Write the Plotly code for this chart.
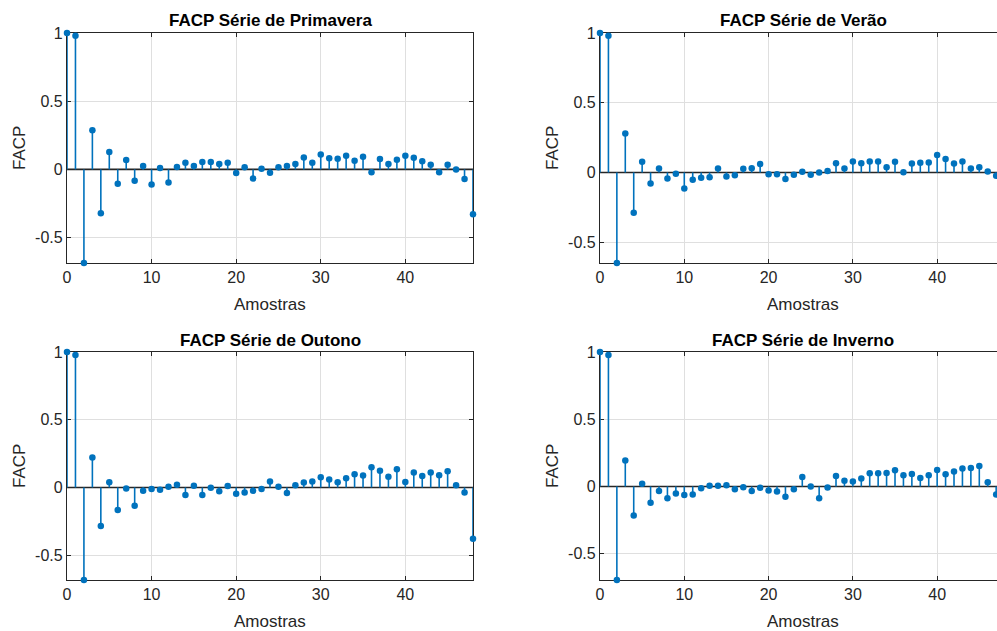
import plotly.graph_objects as go

W, H = 997, 631

lags_left = list(range(49))
lags_right = list(range(48))

primavera = [1.0, 0.98, -0.686, 0.287, -0.321, 0.127, -0.105, 0.069, -0.083, 0.025,
             -0.11, 0.01, -0.096, 0.017, 0.049, 0.025, 0.054, 0.054, 0.039, 0.049,
             -0.027, 0.015, -0.066, 0.005, -0.025, 0.015, 0.025, 0.039, 0.088, 0.049,
             0.11, 0.081, 0.078, 0.10, 0.064, 0.093, -0.02, 0.076, 0.039, 0.071,
             0.10, 0.086, 0.059, 0.034, -0.02, 0.034, 0.0, -0.071, -0.328]

verao = [1.0, 0.981, -0.649, 0.279, -0.288, 0.077, -0.079, 0.029, -0.043, -0.01,
         -0.115, -0.053, -0.038, -0.034, 0.029, -0.029, -0.019, 0.026, 0.031, 0.06,
         -0.012, -0.012, -0.046, -0.017, 0.005, -0.017, 0.0, 0.01, 0.067, 0.029,
         0.079, 0.067, 0.079, 0.079, 0.038, 0.077, 0.002, 0.065, 0.07, 0.072,
         0.125, 0.096, 0.065, 0.079, 0.029, 0.038, 0.007, -0.024]

outono = [1.0, 0.978, -0.683, 0.222, -0.285, 0.039, -0.166, -0.007, -0.134, -0.024,
          -0.012, -0.017, 0.005, 0.02, -0.056, 0.012, -0.056, -0.002, -0.027, 0.01,
          -0.046, -0.037, -0.024, -0.012, 0.044, 0.005, -0.041, 0.017, 0.037, 0.044,
          0.076, 0.059, 0.039, 0.068, 0.098, 0.088, 0.149, 0.124, 0.08, 0.134,
          0.041, 0.11, 0.085, 0.11, 0.09, 0.12, 0.017, -0.037, -0.378]

inverno = [1.0, 0.978, -0.695, 0.194, -0.216, 0.02, -0.12, -0.034, -0.088, -0.052,
           -0.064, -0.059, -0.012, 0.005, 0.005, 0.01, -0.02, -0.005, -0.034, -0.01,
           -0.029, -0.037, -0.076, -0.02, 0.071, 0.0, -0.088, -0.007, 0.079, 0.042,
           0.037, 0.059, 0.098, 0.098, 0.101, 0.12, 0.084, 0.093, 0.064, 0.084,
           0.123, 0.091, 0.111, 0.133, 0.138, 0.152, 0.032, -0.059]

titles = ["FACP Série de Primavera", "FACP Série de Verão",
          "FACP Série de Outono", "FACP Série de Inverno"]
xlabel = "Amostras"
ylabel = "FACP"
xticks = [0, 10, 20, 30, 40]
yticks = [-0.5, 0, 0.5, 1]
yticklabels = ["-0.5", "0", "0.5", "1"]

STEM = "#0072BD"
AX = "#262626"
GRID = "#dfdfdf"
FONT = "Liberation Sans, Arial, Helvetica, sans-serif"

# pixel layout of the 4 axes: (x0, x1, y0, y1) in page pixels
boxes = [(67, 473, 33, 263), (600, 997, 33, 263),
         (67, 473, 352, 580), (600, 997, 352, 580)]
xranges = [[0, 48], [0, 47.1], [0, 48], [0, 47.1]]
yranges = [[-0.686, 1], [-0.649, 1], [-0.683, 1], [-0.695, 1]]
title_cx = [270, 803, 270, 803]
series = [(lags_left, primavera), (lags_right, verao),
          (lags_left, outono), (lags_right, inverno)]

fig = go.Figure()
annotations = []

for i, ((lx, vals), (x0, x1, y0, y1)) in enumerate(zip(series, boxes)):
    n = "" if i == 0 else str(i + 1)
    xa, ya = "x" + n, "y" + n
    # stem baseline (drawn first, below stems)
    fig.add_trace(go.Scatter(x=xranges[i], y=[0, 0], mode="lines",
                             line=dict(color=AX, width=1.6),
                             xaxis=xa, yaxis=ya, hoverinfo="skip",
                             showlegend=False))
    sx, sy = [], []
    for l, v in zip(lx, vals):
        sx += [l, l, None]
        sy += [0, v, None]
    fig.add_trace(go.Scatter(x=sx, y=sy, mode="lines",
                             line=dict(color=STEM, width=1.6),
                             xaxis=xa, yaxis=ya, hoverinfo="skip",
                             showlegend=False))
    fig.add_trace(go.Scatter(x=lx, y=vals, mode="markers",
                             marker=dict(color=STEM, size=6.5),
                             cliponaxis=False,
                             xaxis=xa, yaxis=ya, showlegend=False))
    right_col = i in (1, 3)
    common = dict(ticks="inside", ticklen=4, tickcolor=AX, tickwidth=1,
                  showline=True, linecolor=AX, linewidth=1.2,
                  showgrid=True, gridcolor=GRID, gridwidth=1,
                  zeroline=False, automargin=False, layer="below traces",
                  tickfont=dict(family=FONT, size=16, color=AX))
    fig.update_layout(**{
        "xaxis" + n: dict(domain=[x0 / W, min(x1 / W, 1.0)], anchor=ya,
                          range=xranges[i], tickvals=xticks,
                          mirror="ticks", **common),
        "yaxis" + n: dict(domain=[1 - y1 / H, 1 - y0 / H], anchor=xa,
                          range=yranges[i], tickvals=yticks,
                          ticktext=yticklabels,
                          mirror=False if right_col else "ticks", **common),
    })
    ty = y0 - 12
    annotations.append(dict(text="<b>" + titles[i] + "</b>", xref="paper",
                            yref="paper", x=title_cx[i] / W, y=1 - ty / H,
                            xanchor="center", yanchor="middle", showarrow=False,
                            font=dict(family=FONT, size=17, color="#000000")))
    annotations.append(dict(text=xlabel, xref="paper", yref="paper",
                            x=title_cx[i] / W, y=1 - (y1 + 41) / H,
                            xanchor="center", yanchor="middle", showarrow=False,
                            font=dict(family=FONT, size=17, color=AX)))
    annotations.append(dict(text=ylabel, xref="paper", yref="paper",
                            x=(x0 - 48) / W, y=1 - ((y0 + y1) / 2) / H,
                            xanchor="center", yanchor="middle", textangle=-90,
                            showarrow=False,
                            font=dict(family=FONT, size=17, color=AX)))

fig.update_layout(width=W, height=H, margin=dict(l=0, r=0, t=0, b=0, pad=0),
                  paper_bgcolor="white", plot_bgcolor="white",
                  annotations=annotations, showlegend=False,
                  font=dict(family=FONT))

fig.write_html("out.html")
